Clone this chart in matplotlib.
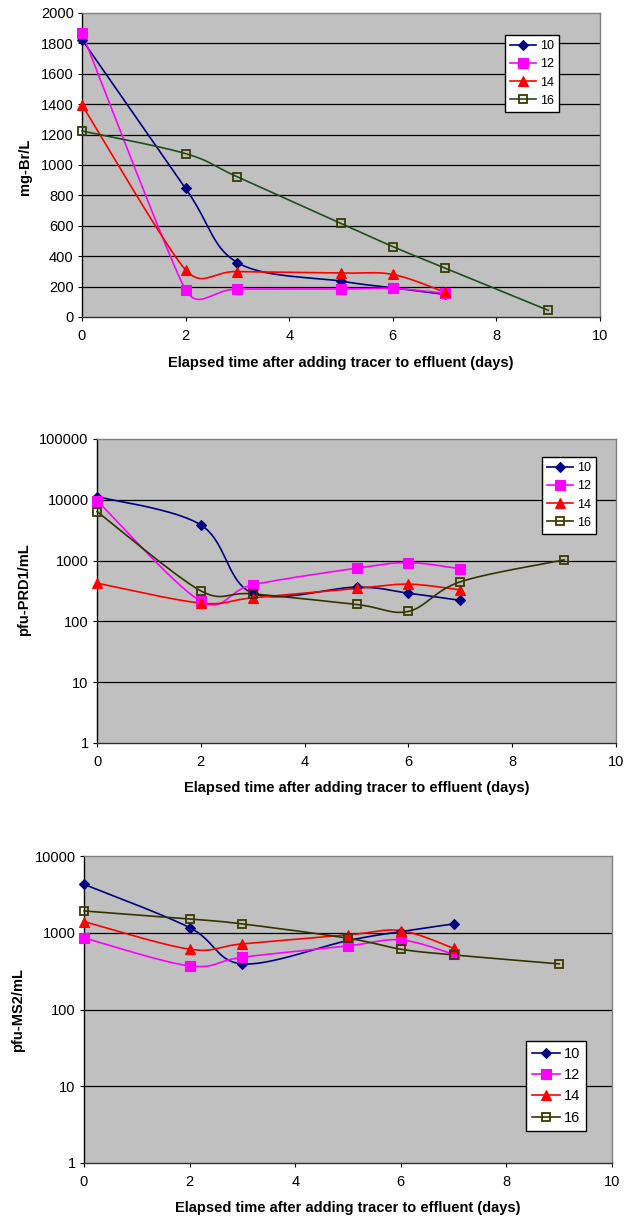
import numpy as np
import matplotlib
matplotlib.use("Agg")
import matplotlib.pyplot as plt
from matplotlib.lines import Line2D
from matplotlib.ticker import NullLocator

plt.rcParams['font.family'] = ['Liberation Sans', 'DejaVu Sans']

# elapsed days for series 10, 12, 14 and for series 16
days = [0, 2, 3, 5, 6, 7]
days16 = [0, 2, 3, 5, 6, 7, 9]
series_names = ["10", "12", "14", "16"]

# bromide (mg-Br/L)
br_10 = [1825, 846, 358, 236, 192, 149]
br_12 = [1869, 179, 184, 184, 188, 157]
br_14 = [1395, 310, 299, 289, 280, 164]
br_16 = [1224, 1075, 922, 616, 463, 323, 44]

# PRD1 (pfu/mL)
prd1_10 = [11300, 3860, 290, 366, 291, 222]
prd1_12 = [9700, 215, 399, 750, 929, 731]
prd1_14 = [425, 200, 244, 348, 410, 330]
prd1_16 = [6400, 318, 284, 190, 146, 448, 1028]

# MS2 (pfu/mL)
ms2_10 = [4280, 1167, 393, 791, 1036, 1303]
ms2_12 = [857, 370, 480, 674, 807, 525]
ms2_14 = [1396, 610, 716, 937, 1067, 628]
ms2_16 = [1923, 1513, 1303, 848, 610, 514, 393]

br_ticks = [0, 200, 400, 600, 800, 1000, 1200, 1400, 1600, 1800, 2000]
prd1_ticks = [1, 10, 100, 1000, 10000, 100000]
ms2_ticks = [1, 10, 100, 1000, 10000]
x_ticks = [0, 2, 4, 6, 8, 10]

xlabel = "Elapsed time after adding tracer to effluent (days)"


def excel_smooth(ax, xs, ys, n=40):
    # Excel-like smoothed line: bezier segments built in screen space
    pts = ax.transData.transform(np.column_stack([xs, ys]))
    m = len(pts)
    out = [pts[0]]
    for i in range(m - 1):
        p1 = pts[i]
        p2 = pts[i + 1]
        p0 = pts[i - 1] if i > 0 else p1
        p3 = pts[i + 2] if i + 2 < m else p2
        d12 = np.hypot(*(p2 - p1))
        t1 = (p2 - p0) / 6.0
        t2 = (p3 - p1) / 6.0
        cap1 = min(d12, np.hypot(*(p1 - p0)) if i > 0 else d12) / 2.0
        cap2 = min(d12, np.hypot(*(p3 - p2)) if i + 2 < m else d12) / 2.0
        l1 = np.hypot(*t1)
        l2 = np.hypot(*t2)
        if l1 > cap1 and l1 > 0:
            t1 = t1 * cap1 / l1
        if l2 > cap2 and l2 > 0:
            t2 = t2 * cap2 / l2
        c1 = p1 + t1
        c2 = p2 - t2
        t = np.linspace(0, 1, n)[1:, None]
        seg = ((1 - t) ** 3) * p1 + 3 * ((1 - t) ** 2) * t * c1 + 3 * (1 - t) * t ** 2 * c2 + t ** 3 * p2
        out.extend(seg)
    return ax.transData.inverted().transform(np.array(out))


fig = plt.figure(figsize=(6.25, 12.17), dpi=100)

panels = [
    dict(rect=[82 / 625, 1 - 317 / 1217, 518 / 625, 304 / 1217],
         data=[br_10, br_12, br_14, br_16], log=False, ylim=(0, 2000), ticks=br_ticks,
         ylabel="mg-Br/L", ylab=(-0.110, 0.493), xlab=-0.151,
         leg=(505 / 625, 1 - 35 / 1217), legsize=9, hl=2.1, green="#1d4f1d"),
    dict(rect=[97 / 625, 1 - 743 / 1217, 519 / 625, 304 / 1217],
         data=[prd1_10, prd1_12, prd1_14, prd1_16], log=True, ylim=(1, 100000), ticks=prd1_ticks,
         ylabel="pfu-PRD1/mL", ylab=(-0.141, 0.503), xlab=-0.148,
         leg=(542 / 625, 1 - 457 / 1217), legsize=9, hl=2.1, green="#333300"),
    dict(rect=[84 / 625, 1 - 1163 / 1217, 528 / 625, 307 / 1217],
         data=[ms2_10, ms2_12, ms2_14, ms2_16], log=True, ylim=(1, 10000), ticks=ms2_ticks,
         ylabel="pfu-MS2/mL", ylab=(-0.125, 0.498), xlab=-0.147,
         leg=(526 / 625, 1 - 1041 / 1217), legsize=10.5, hl=1.9, green="#333300"),
]

for p in panels:
    ax = fig.add_axes(p["rect"])
    ax.set_facecolor("#c0c0c0")
    if p["log"]:
        ax.set_yscale("log")
    ax.set_xlim(0, 10)
    ax.set_ylim(*p["ylim"])
    ax.set_xticks(x_ticks)
    ax.set_yticks(p["ticks"])
    ax.set_yticklabels([str(v) for v in p["ticks"]])
    ax.yaxis.set_minor_locator(NullLocator())
    ax.xaxis.set_minor_locator(NullLocator())
    for v in p["ticks"][1:-1]:
        ax.axhline(v, color="black", lw=0.9, zorder=1)
    ax.tick_params(axis="both", direction="out", length=3, width=0.8, labelsize=10.5, colors="black")
    ax.tick_params(axis="x", pad=6)
    ax.tick_params(axis="y", pad=3)
    ax.spines["left"].set_color("black")
    ax.spines["bottom"].set_color("#303030")
    ax.spines["top"].set_color("#808080")
    ax.spines["right"].set_color("#808080")
    for s in ax.spines.values():
        s.set_linewidth(1.0)

    styles = [
        dict(color="#000080", marker="D", ms=5, mfc="#000080", mec="#000080", mew=0.8),
        dict(color="#ff00ff", marker="s", ms=6.5, mfc="#ff00ff", mec="#ff00ff", mew=0.8),
        dict(color="#ff0000", marker="^", ms=7, mfc="#ff0000", mec="#ff0000", mew=0.8),
        dict(color=p["green"], marker="s", ms=6, mfc="none", mec="#3a3a00", mew=1.3),
    ]
    handles = []
    for vals, st, name in zip(p["data"], styles, series_names):
        xs = days16 if len(vals) == len(days16) else days
        curve = excel_smooth(ax, xs, vals)
        ax.plot(curve[:, 0], curve[:, 1], color=st["color"], lw=1.2, zorder=3, clip_on=False)
        ax.plot(xs, vals, ls="none", marker=st["marker"], ms=st["ms"], mfc=st["mfc"],
                mec=st["mec"], mew=st["mew"], zorder=4, clip_on=False)
        handles.append(Line2D([], [], color=st["color"], lw=1.2, marker=st["marker"], ms=st["ms"],
                              mfc=st["mfc"], mec=st["mec"], mew=st["mew"], label=name))

    leg = ax.legend(handles=handles, loc="upper left", bbox_to_anchor=p["leg"],
                    bbox_transform=fig.transFigure, borderaxespad=0, fontsize=p["legsize"],
                    fancybox=False, framealpha=1, edgecolor="black", handlelength=p["hl"],
                    handletextpad=0.3, labelspacing=0.5, borderpad=0.4)
    leg.get_frame().set_linewidth(1.0)
    leg.set_zorder(10)

    ax.set_ylabel(p["ylabel"], fontsize=10.5, fontweight="bold", va="center", ha="center")
    ax.yaxis.set_label_coords(*p["ylab"])
    ax.set_xlabel(xlabel, fontsize=10.5, fontweight="bold", va="center", ha="center")
    ax.xaxis.set_label_coords(0.5, p["xlab"])

fig.savefig("out.png", dpi=100)
